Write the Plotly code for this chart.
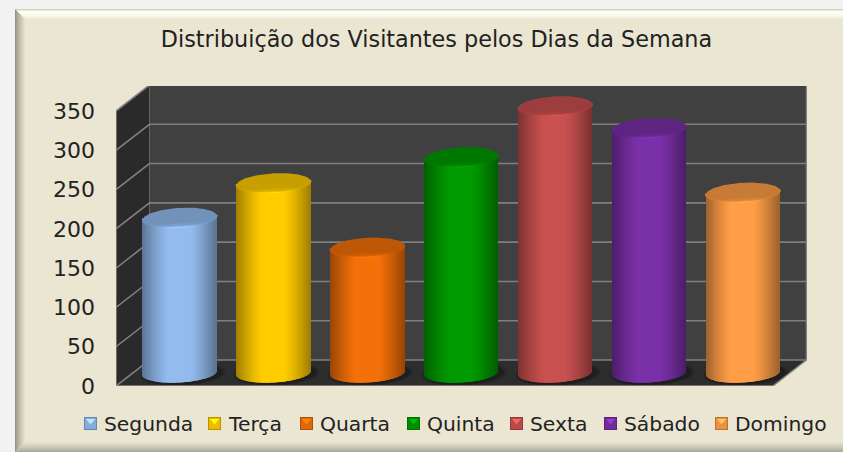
import numpy as np
import plotly.graph_objects as go

TITLE = "Distribuição dos Visitantes pelos Dias da Semana"
DAYS = ["Segunda", "Terça", "Quarta", "Quinta", "Sexta", "Sábado", "Domingo"]
VISITORS = [198, 242, 160, 275, 340, 312, 230]
COLORS = ["#93BBEE", "#FFCC00", "#F47008", "#009900", "#C8504F", "#7A30A8", "#FF9E46"]
TICKS = [0, 50, 100, 150, 200, 250, 300, 350]
LEGEND_ICON_X = [84, 208, 300, 407, 510, 604, 715]

W, H = 843, 452
L, R, T, B = 116, 807, 86, 386
PX_X = 93.86
PX_Y = 275 / 350
DX, DY = 33.5 / PX_X, 26 / PX_Y
FONT = "DejaVu Sans"
TEXT = "#222222"
PANEL = (234, 230, 210)


def rgb(c, k=1.0):
    c = c.lstrip("#")
    v = [int(c[i:i + 2], 16) for i in (0, 2, 4)]
    return "rgb(%d,%d,%d)" % tuple(min(255, max(0, round(x * k))) for x in v)


def mix(a, b, f):
    return "rgb(%d,%d,%d)" % tuple(round(x + (y - x) * f) for x, y in zip(a, b))


def shade(t):
    a = np.abs(t)
    return 1 - 0.38 * np.clip((a - 0.3) / 0.7, 0, 1) ** 1.25


def px(x):
    return (x - L) / (R - L)


def py(y):
    return (B - y) / (B - T)


def poly(points, color, layer="below", ref="paper"):
    path = "M" + " L".join(f"{a:.5f},{b:.5f}" for a, b in points) + " Z"
    xr, yr = ("paper", "paper") if ref == "paper" else ("x", "y")
    return dict(type="path", path=path, xref=xr, yref=yr, fillcolor=color,
                line=dict(width=0), layer=layer)


def pxpoly(points, color):
    return poly([(px(a), py(b)) for a, b in points], color)


def line(points, color, width):
    path = "M" + " L".join(f"{a:.5f},{b:.5f}" for a, b in points)
    return dict(type="path", path=path, xref="x", yref="y",
                line=dict(color=color, width=width), layer="below")


X0, Y0, X1, Y1 = 15, 9, 843, 452
shapes = [pxpoly([(X0, Y0), (X1, Y0), (X1, Y1), (X0, Y1)], mix(PANEL, PANEL, 0))]
BEVEL = 11
for k in range(BEVEL):
    f = k / (BEVEL - 1)
    a, b = k, k + 1
    # top band: cream that fades into the panel
    top_col = mix((214, 210, 188), (255, 255, 246), min(1, k / 2)) if k < 3 else mix((255, 255, 246), PANEL, ((k - 3) / 7) ** 1.5)
    shapes.append(pxpoly([(X0 + a, Y0 + a), (X1, Y0 + a), (X1, Y0 + b), (X0 + b, Y0 + b)], top_col))
    shapes.append(pxpoly([(X0 + a, Y0 + a), (X0 + b, Y0 + b), (X0 + b, Y1 - b), (X0 + a, Y1 - a)],
                         mix((150, 150, 132), PANEL, f ** 0.8)))
    shapes.append(pxpoly([(X0 + a, Y1 - a), (X1, Y1 - a), (X1, Y1 - b), (X0 + b, Y1 - b)],
                         mix((170, 170, 155), PANEL, f ** 0.8)))

top = TICKS[-1]
shapes += [
    poly([(0, 0), (DX, DY), (7 + DX, DY), (7, 0)], "#2D2D2D", ref="d"),
    poly([(0, 0), (DX, DY), (DX, top + DY), (0, top)], "#2A2A2A", ref="d"),
    poly([(DX, DY), (7 + DX, DY), (7 + DX, top + DY), (DX, top + DY)], "#404040", ref="d"),
]

RADIUS = 36.7 / PX_X
MINOR = 9.5 / PX_Y
TILT = 2.0 / PX_Y
MID_X, MID_Y = DX / 2, DY / 2
STRIPS = 74
th = np.linspace(0, 2 * np.pi, 181)

# soft contact shadows on the floor, below the wall lines
for i in range(len(DAYS)):
    xc = i + 0.5 + MID_X
    for scale, tone in ((1.16, "#262626"), (1.08, "#1E1E1E")):
        sx = xc + RADIUS * scale * np.cos(th) + 3 / PX_X
        sy = MID_Y + MINOR * 1.05 * scale * np.sin(th) + TILT * np.cos(th) - 1 / PX_Y
        sy = np.clip(sy, 1, DY - 1)
        shapes.append(poly(list(zip(sx, sy)), tone, ref="d"))

for v in TICKS[1:]:
    shapes.append(line([(0, v), (DX, v + DY), (7 + DX, v + DY)], "#7F7F7F", 1.6))
shapes.append(line([(0, 0), (DX, DY), (7 + DX, DY), (7 + DX, top + DY), (DX, top + DY)], "#7F7F7F", 1.6))
shapes.append(line([(0, top), (0, 0), (7, 0), (7 + DX, DY)], "#8A8A80", 1.4))

fig = go.Figure()
annotations = []
for i, (day, value, color) in enumerate(zip(DAYS, VISITORS, COLORS)):
    xc = i + 0.5 + MID_X
    yc = value + MID_Y

    strip = 2 * RADIUS / STRIPS
    t = (np.arange(STRIPS) + 0.5) * strip / RADIUS - 1
    strip_x = xc + RADIUS * t
    base = MID_Y - MINOR * np.sqrt(1 - t ** 2) + TILT * t
    colors = [rgb(color, k) for k in shade(t)]
    fig.add_bar(x=strip_x, y=value + TILT * t + MID_Y - base, base=base,
                width=strip * 1.15, marker=dict(color=colors, line=dict(width=0)),
                showlegend=False, hoverinfo="skip", name=day)

    ex = xc + RADIUS * np.cos(th)
    ey = yc + MINOR * np.sin(th) + TILT * np.cos(th)
    fig.add_scatter(x=ex, y=ey, mode="lines", fill="toself", fillcolor=rgb(color, 0.78),
                    line=dict(width=0, color=rgb(color, 0.78)), showlegend=False, hoverinfo="skip")
    # soft highlight following the front edge of the cap
    front = th[90:181]
    glow = np.clip(-np.sin(front), 0, 1) ** 6
    for inset, amount in ((1.0, 1.0), (0.88, 0.45), (0.76, 0.18)):
        fig.add_scatter(x=xc + RADIUS * inset * np.cos(front),
                        y=yc + MINOR * inset * np.sin(front) + TILT * inset * np.cos(front),
                        mode="markers", showlegend=False, hoverinfo="skip",
                        marker=dict(size=2.2, line=dict(width=0),
                                    color=[rgb(color, 0.78 + 0.34 * g * amount) for g in glow]))

    # legend entry
    x0 = LEGEND_ICON_X[i]
    y0, s = 417, 13
    shapes += [
        pxpoly([(x0, y0), (x0 + s, y0), (x0 + s, y0 + s), (x0, y0 + s)], rgb(color, 0.72)),
        pxpoly([(x0 + 1, y0 + 1), (x0 + s - 1, y0 + 1), (x0 + s - 1, y0 + s - 1), (x0 + 1, y0 + s - 1)], rgb(color, 0.92)),
        pxpoly([(x0 + 2, y0 + 2), (x0 + s - 2, y0 + 2), (x0 + s / 2, y0 + s / 2 + 1)], rgb(color, 1.25)),
    ]
    annotations.append(dict(text=day, xref="paper", yref="paper", x=px(x0 + s + 5), y=py(424),
                            xanchor="left", yanchor="middle", showarrow=False,
                            font=dict(size=20.3, family=FONT, color=TEXT)))

fig.update_layout(
    width=W, height=H, margin=dict(l=L, r=W - R, t=T, b=H - B),
    paper_bgcolor="#F2F2F2", plot_bgcolor="rgba(0,0,0,0)",
    barmode="overlay", shapes=shapes, annotations=annotations, showlegend=False,
    font=dict(family=FONT, color=TEXT),
    title=dict(text=TITLE, x=436.5 / W, xanchor="center", y=1 - 39 / H, yanchor="middle",
               font=dict(size=22.3, family=FONT, color=TEXT)),
    xaxis=dict(range=[0, (R - L) / PX_X], visible=False, fixedrange=True),
    yaxis=dict(range=[0, (B - T) / PX_Y], tickvals=TICKS, showgrid=False, zeroline=False,
               showline=False, ticks="", ticklabelstandoff=20, fixedrange=True, automargin=False,
               tickfont=dict(size=22, family=FONT, color=TEXT)),
    hovermode=False,
)
fig.write_html("out.html", config=dict(displayModeBar=False),
               post_script="document.body.style.margin='0';document.body.style.overflow='hidden';")
